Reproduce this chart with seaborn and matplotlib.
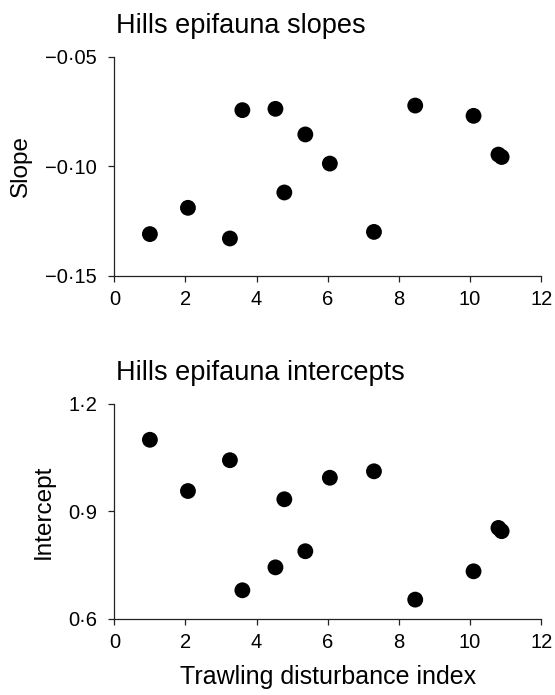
import matplotlib
matplotlib.use("Agg")
import matplotlib.pyplot as plt
import seaborn as sns
import pandas as pd
from matplotlib.ticker import FixedLocator, FixedFormatter

# ---- data ----
disturbance = [1.00, 2.07, 3.25, 3.60, 4.53, 4.78, 5.37, 6.06, 7.30, 8.46, 10.10, 10.80, 10.89]
slopes = [-0.131, -0.119, -0.133, -0.0744, -0.0738, -0.112, -0.0855, -0.0988,
          -0.130, -0.0723, -0.077, -0.0947, -0.0958]
intercepts = [1.100, 0.957, 1.043, 0.680, 0.744, 0.934, 0.789, 0.994,
              1.012, 0.654, 0.733, 0.854, 0.845]

x_ticks = [0, 2, 4, 6, 8, 10, 12]
x_tick_labels = ["0", "2", "4", "6", "8", "10", "12"]
slope_ticks = [-0.15, -0.10, -0.05]
slope_tick_labels = ["\u22120\u00b715", "\u22120\u00b710", "\u22120\u00b705"]
int_ticks = [0.6, 0.9, 1.2]
int_tick_labels = ["0\u00b76", "0\u00b79", "1\u00b72"]

df = pd.DataFrame({"disturbance": disturbance, "slope": slopes, "intercept": intercepts})

sns.set_style("ticks")
plt.rcParams["font.family"] = ["Liberation Sans", "DejaVu Sans"]
plt.rcParams["text.color"] = "black"
plt.rcParams["axes.labelcolor"] = "black"

fig = plt.figure(figsize=(5.55, 6.95), dpi=100)
ax1 = fig.add_axes([0.206, 0.6033, 0.769, 0.3151])
ax2 = fig.add_axes([0.206, 0.1094, 0.769, 0.3094])

for ax, col, yt, ytl, ylim, title, ylabel in [
    (ax1, "slope", slope_ticks, slope_tick_labels, (-0.15, -0.05), "Hills epifauna slopes", "Slope"),
    (ax2, "intercept", int_ticks, int_tick_labels, (0.6, 1.2), "Hills epifauna intercepts", "Intercept"),
]:
    sns.scatterplot(data=df, x="disturbance", y=col, ax=ax, color="black",
                    s=130, edgecolor="none", linewidth=0, clip_on=False, zorder=3)
    ax.set_xlim(0, 12)
    ax.set_ylim(*ylim)
    ax.xaxis.set_major_locator(FixedLocator(x_ticks))
    ax.xaxis.set_major_formatter(FixedFormatter(x_tick_labels))
    ax.yaxis.set_major_locator(FixedLocator(yt))
    ax.yaxis.set_major_formatter(FixedFormatter(ytl))
    ax.tick_params(axis="both", labelsize=14.5, length=4.3, width=0.9, color="#222222",
                   direction="out", labelcolor="black")
    ax.tick_params(axis="x", pad=6)
    ax.tick_params(axis="y", pad=8)
    for side in ["top", "right"]:
        ax.spines[side].set_visible(False)
    for side in ["left", "bottom"]:
        ax.spines[side].set_linewidth(0.9)
        ax.spines[side].set_color("#222222")
    ax.set_title(title, loc="left", fontsize=19.5, pad=17, x=0.005, color="black")
    ax.set_ylabel(ylabel, fontsize=17.5, labelpad=10)
    ax.set_xlabel("")

ax2.set_xlabel("Trawling disturbance index", fontsize=18, labelpad=9)

fig.savefig("out.png", dpi=100, facecolor="white")
